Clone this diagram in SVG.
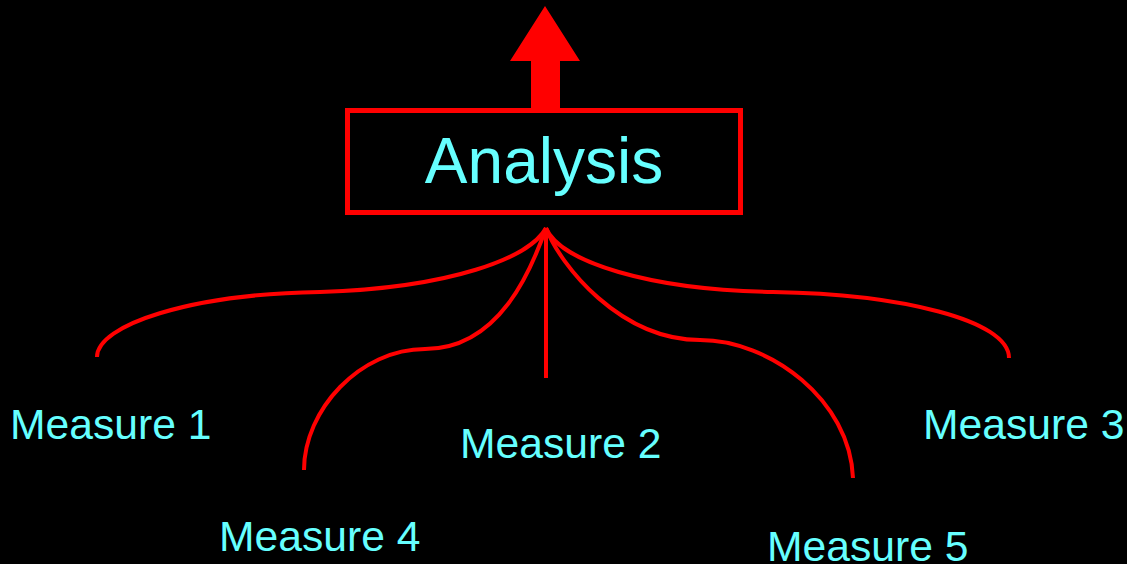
<svg xmlns="http://www.w3.org/2000/svg" width="1127" height="564" viewBox="0 0 1127 564">
<style>
.lbl{font-family:"Liberation Sans",Arial,sans-serif;font-size:42.67px;fill:#66FFFF}
.con{fill:none;stroke:#FF0000;stroke-width:4}
</style>
<rect width="1127" height="564" fill="#000"/>
<g id="output-arrow">
<polygon points="545,6 580,61 560,61 560,111 531,111 531,61 510,61" fill="#FF0000"/>
</g>
<g id="analysis">
<rect x="347.5" y="110.5" width="393" height="102" fill="none" stroke="#FF0000" stroke-width="5"/>
<text x="544" y="183" text-anchor="middle" style="font-family:'Liberation Sans',Arial,sans-serif;font-size:64px;fill:#66FFFF">Analysis</text>
</g>
<g id="connectors">
<path class="con" d="M546,228 C530,258 450,288 320,292 C190,294 97,325 97,357"/>
<path class="con" d="M546,228 C532,268 500,349 425,349 C360,349 304,410 304,470"/>
<path class="con" d="M546,228 L546,378"/>
<path class="con" d="M546,228 C560,265 620,340 700,340 C770,340 850,400 853,478"/>
<path class="con" d="M546,228 C560,262 650,290 773,292 C900,294 1009,320 1009,358"/>
</g>
<g id="measure1"><text class="lbl" x="10" y="439">Measure 1</text></g>
<g id="measure2"><text class="lbl" x="460" y="458">Measure 2</text></g>
<g id="measure3"><text class="lbl" x="923" y="439">Measure 3</text></g>
<g id="measure4"><text class="lbl" x="219" y="551">Measure 4</text></g>
<g id="measure5"><text class="lbl" x="767" y="561">Measure 5</text></g>
</svg>
